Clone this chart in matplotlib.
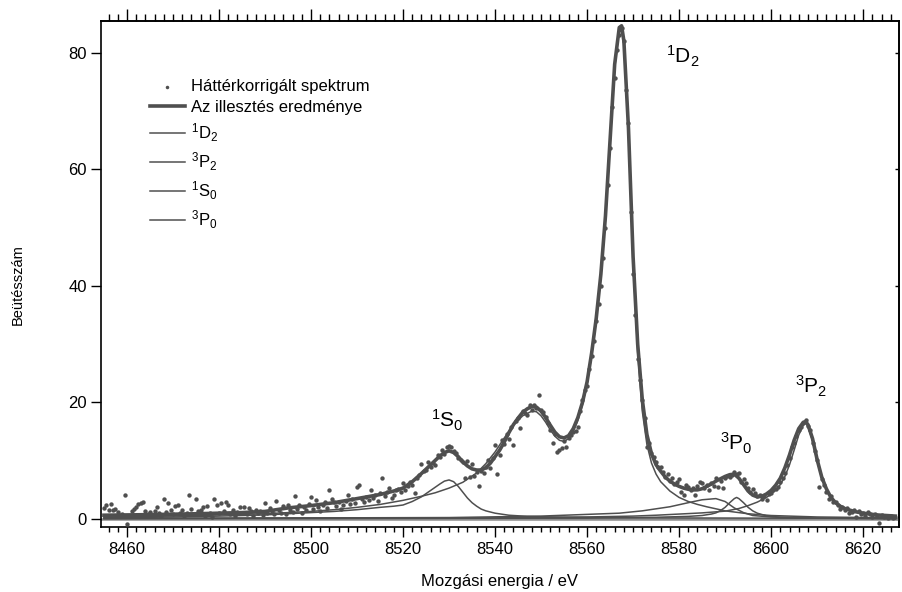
import numpy as np
import matplotlib
matplotlib.use("Agg")
import matplotlib.pyplot as plt
from matplotlib.ticker import MultipleLocator

plt.rcParams['font.family'] = ['Liberation Sans', 'DejaVu Sans']
plt.rcParams['mathtext.fontset'] = 'custom'
plt.rcParams['mathtext.rm'] = 'Liberation Sans'
plt.rcParams['mathtext.it'] = 'Liberation Sans:italic'

# mért pontok: 8455 .. 8627 eV, 0.5 eV lépés
meas_e = np.arange(8455.0, 8627.01, 0.5)
meas_v = [
    1.9, 2.4, 1.6, 2.6, 1.6, 1.7, 1.2, 0.6, 0.9, 4.1, -0.9, 0.5, 1.3, 1.7, 2.1, 2.6, 2.8, 2.9, 1.4, 0.8,
    1.2, 0.7, 1.4, 2.0, 1.0, 0.6, 3.4, 1.2, 2.8, 1.6, 0.9, 2.2, 2.4, 1.0, 1.6, 0.5, 1.1, 4.1, 1.7, 0.8,
    3.4, 1.3, 1.6, 2.0, 0.6, 2.2, 1.1, 0.4, 3.4, 2.4, 1.0, 2.8, 1.3, 3.0, 2.4, 0.9, 1.6, 0.5, 1.2, 2.0,
    1.0, 2.1, 0.8, 1.9, 1.4, 0.6, 1.6, 1.1, 1.3, 0.7, 2.8, 1.0, 1.9, 1.4, 0.8, 3.1, 1.5, 1.1, 2.2, 0.9,
    2.4, 1.6, 1.2, 3.9, 1.8, 2.4, 1.0, 2.0, 1.5, 2.6, 3.7, 1.8, 3.3, 2.1, 1.4, 2.4, 2.9, 1.9, 4.9, 3.4,
    3.0, 2.2, 3.0, 1.8, 2.4, 3.1, 4.1, 2.6, 3.5, 2.8, 5.5, 5.8, 3.4, 2.9, 3.8, 3.3, 4.9, 3.6, 4.2, 3.1,
    4.4, 7.1, 4.0, 4.7, 5.3, 3.6, 4.1, 4.9, 5.2, 4.6, 6.2, 5.0, 5.6, 6.3, 5.8, 4.4, 7.0, 7.6, 9.4, 8.2,
    8.4, 9.8, 9.0, 9.6, 9.2, 11.0, 10.6, 11.8, 11.2, 12.3, 12.5, 12.4, 11.6, 11.3, 10.4, 10.1, 9.8, 7.0, 10.0, 7.2,
    9.5, 7.4, 8.0, 5.7, 8.2, 7.9, 8.9, 10.1, 8.7, 10.4, 12.7, 7.8, 11.0, 13.5, 12.9, 14.6, 13.8, 15.7, 12.7, 16.8,
    17.3, 15.6, 18.6, 18.1, 17.8, 19.5, 18.7, 19.6, 19.0, 21.3, 18.7, 18.3, 17.5, 16.4, 15.2, 13.0, 14.6, 11.5, 11.9, 12.2,
    13.3, 12.4, 13.9, 14.4, 14.9, 15.1, 15.8, 18.6, 20.4, 22.1, 22.8, 25.8, 27.9, 30.6, 34.0, 36.8, 39.9, 44.7, 49.9, 57.3,
    63.6, 70.7, 75.6, 80.4, 83.0, 84.2, 82.0, 73.6, 67.9, 52.7, 42.0, 35.0, 27.5, 23.8, 20.4, 17.3, 12.4, 13.1, 11.4, 10.7,
    9.8, 8.9, 9.0, 8.1, 7.2, 7.7, 6.5, 7.1, 6.0, 6.4, 6.9, 4.6, 4.1, 5.8, 5.5, 5.0, 5.3, 4.2, 5.6, 6.4,
    6.2, 5.3, 5.8, 4.9, 6.1, 5.7, 7.0, 5.5, 6.6, 5.3, 7.0, 7.4, 7.2, 7.6, 8.1, 7.7, 7.9, 6.4, 6.8, 6.1,
    5.4, 4.7, 5.1, 4.4, 3.9, 4.1, 3.5, 3.9, 3.2, 4.3, 4.4, 4.9, 5.2, 5.5, 6.4, 7.1, 7.9, 9.3, 10.4, 12.4,
    13.0, 14.3, 15.2, 15.8, 16.4, 17.0, 16.0, 15.3, 13.0, 11.6, 10.1, 5.5, 6.8, 5.9, 4.6, 3.5, 3.9, 2.9, 3.0, 2.4,
    1.7, 2.1, 1.6, 1.9, 1.1, 1.2, 1.5, 0.3, 1.3, 0.8, 1.0, 0.6, 1.2, 0.9, 0.4, 0.8, 0.5, -0.6, 0.7, 0.3,
    0.6, 0.2, 0.5, 0.1, 0.4,
]

# illesztett görbe
fit_e = [8455, 8465, 8475, 8485, 8490, 8495, 8500, 8505, 8510, 8515, 8518, 8520, 8522, 8524, 8526,
         8528, 8529, 8530, 8531, 8532, 8533, 8534, 8535, 8536, 8537, 8538, 8539, 8540, 8541, 8542,
         8543, 8544, 8545, 8546, 8547, 8548, 8549, 8550, 8551, 8552, 8553, 8554, 8555, 8556, 8557,
         8558, 8559, 8560, 8561, 8562, 8563, 8564, 8565, 8566, 8567, 8567.5, 8568, 8569, 8570, 8571,
         8572, 8573, 8574, 8575, 8576, 8577, 8578, 8579, 8580, 8581, 8582, 8583, 8584, 8585, 8586,
         8587, 8588, 8589, 8590, 8591, 8592, 8593, 8594, 8595, 8596, 8597, 8598, 8599, 8600, 8601,
         8602, 8603, 8604, 8605, 8606, 8607, 8607.5, 8608, 8609, 8610, 8611, 8612, 8613, 8614, 8615,
         8616, 8618, 8620, 8623, 8627]
fit_v = [0.65, 0.75, 0.9, 1.1, 1.3, 1.9, 2.3, 2.8, 3.5, 4.2, 4.8, 5.3, 6.4, 7.8, 9.3,
         10.8, 11.4, 11.7, 11.4, 10.7, 9.8, 9.1, 8.6, 8.4, 8.4, 8.8, 9.6, 10.7, 11.8, 13.2,
         14.8, 16.2, 17.3, 18.3, 18.9, 19.3, 19.2, 18.5, 17.4, 16.1, 14.9, 14.1, 13.9, 14.3, 15.5,
         17.4, 20.0, 23.5, 28.5, 34.5, 42.0, 52.0, 65.0, 78.0, 84.3, 84.6, 82.0, 67.0, 45.0, 30.0,
         20.5, 14.5, 11.2, 9.3, 8.2, 7.2, 6.5, 6.0, 5.6, 5.3, 5.1, 5.0, 5.0, 5.2, 5.6,
         6.0, 6.5, 6.9, 7.3, 7.6, 7.7, 7.0, 5.9, 4.8, 4.1, 3.8, 3.9, 4.3, 4.9, 5.8,
         7.0, 8.8, 11.0, 13.5, 15.5, 16.6, 16.7, 16.2, 13.8, 10.2, 7.2, 5.2, 3.7, 2.8, 2.2,
         1.8, 1.3, 1.0, 0.7, 0.5]

# komponensek
d2_e = [8455, 8465, 8475, 8485, 8490, 8495, 8500, 8505, 8510, 8515, 8520, 8524, 8527, 8530, 8533,
        8536, 8538, 8540, 8542, 8544, 8546, 8548, 8549, 8550, 8551, 8552, 8553, 8554, 8555, 8556,
        8557, 8558, 8559, 8560, 8561, 8562, 8563, 8564, 8565, 8566, 8567, 8567.5, 8568, 8569, 8570,
        8571, 8572, 8573, 8574, 8575, 8576, 8578, 8580, 8582, 8584, 8586, 8590, 8595, 8600, 8610, 8627]
d2_v = [0.35, 0.45, 0.6, 0.8, 0.9, 1.1, 1.3, 1.6, 2.0, 2.5, 3.2, 3.9, 4.5, 5.3, 6.3,
        7.9, 9.5, 11.5, 13.9, 16.1, 17.7, 18.5, 18.4, 17.7, 16.6, 15.3, 14.2, 13.5, 13.3, 13.8,
        15.0, 16.9, 19.6, 23.2, 28.1, 34.1, 41.7, 51.4, 64.4, 77.4, 84.0, 84.3, 81.5, 66.5, 44.5,
        28.5, 18.5, 12.8, 9.6, 7.7, 6.4, 4.8, 3.7, 3.0, 2.5, 2.1, 1.4, 0.9, 0.6, 0.35, 0.2]

p2_e = [8455, 8540, 8560, 8570, 8575, 8580, 8585, 8590, 8593, 8595, 8597, 8599, 8600, 8601, 8602,
        8603, 8604, 8605, 8606, 8607, 8607.5, 8608, 8609, 8610, 8611, 8612, 8613, 8614, 8615, 8617,
        8620, 8623, 8627]
p2_v = [0.1, 0.2, 0.35, 0.5, 0.65, 0.85, 1.05, 1.35, 1.8, 2.3, 2.9, 3.7, 4.3, 5.0, 5.9,
        7.3, 9.3, 11.8, 14.4, 16.1, 16.4, 16.0, 13.4, 10.0, 7.0, 5.0, 3.7, 2.8, 2.2, 1.5,
        1.0, 0.7, 0.5]

s0_e = [8455, 8470, 8480, 8490, 8500, 8505, 8510, 8515, 8518, 8520, 8522, 8524, 8526, 8528, 8529,
        8530, 8531, 8532, 8533, 8534, 8535, 8536, 8537, 8538, 8540, 8543, 8547, 8555, 8570, 8627]
s0_v = [0.2, 0.35, 0.5, 0.7, 1.1, 1.3, 1.6, 2.0, 2.2, 2.4, 3.0, 3.8, 4.9, 6.0, 6.5,
        6.7, 6.4, 5.6, 4.6, 3.6, 2.8, 2.2, 1.7, 1.4, 1.0, 0.65, 0.45, 0.3, 0.2, 0.1]

p0_e = [8455, 8560, 8575, 8582, 8585, 8587, 8588, 8589, 8590, 8591, 8592, 8592.5, 8593, 8594, 8595,
        8596, 8597, 8599, 8602, 8610, 8627]
p0_v = [0.05, 0.15, 0.3, 0.45, 0.6, 0.85, 1.05, 1.45, 2.0, 2.8, 3.5, 3.7, 3.5, 2.8, 2.0,
        1.4, 1.0, 0.55, 0.3, 0.15, 0.05]

# széles mellékcsúcs 8588 eV körül
sat_e = [8455, 8530, 8550, 8567, 8572, 8578, 8582, 8585, 8588, 8590, 8592, 8594, 8596, 8600, 8610, 8627]
sat_v = [0.1, 0.25, 0.5, 1.0, 1.4, 2.1, 2.8, 3.3, 3.5, 3.0, 1.9, 1.1, 0.6, 0.35, 0.15, 0.1]

col = '#4f4f4f'

fig = plt.figure(figsize=(9.03, 5.92), dpi=100)
ax = fig.add_axes([0.1118, 0.1098, 0.8838, 0.8552])

ax.axhline(0, color='#8c8c8c', lw=1.8, zorder=1)
ax.plot(sat_e, sat_v, color=col, lw=1.1, zorder=2)
ax.plot(d2_e, d2_v, color=col, lw=1.1, zorder=2, label=r'$\mathregular{^1D_2}$')
ax.plot(p2_e, p2_v, color=col, lw=1.1, zorder=2, label=r'$\mathregular{^3P_2}$')
ax.plot(s0_e, s0_v, color=col, lw=1.1, zorder=2, label=r'$\mathregular{^1S_0}$')
ax.plot(p0_e, p0_v, color=col, lw=1.1, zorder=2, label=r'$\mathregular{^3P_0}$')
ax.plot(fit_e, fit_v, color=col, lw=2.6, zorder=3, label='Az illesztés eredménye')
ax.scatter(meas_e, meas_v, s=10, color=col, zorder=4, linewidths=0, label='Háttérkorrigált spektrum')

ax.set_xlim(8454.35, 8627.8)
ax.set_ylim(-1.37, 85.47)

ax.xaxis.set_major_locator(MultipleLocator(20))
ax.xaxis.set_minor_locator(MultipleLocator(2))
ax.yaxis.set_major_locator(MultipleLocator(20))
ax.tick_params(axis='x', which='major', direction='out', length=7, width=1, labelsize=12, pad=4)
ax.tick_params(axis='x', which='minor', direction='out', length=3.8, width=1)
ax.tick_params(axis='y', which='major', direction='out', length=7, width=1, labelsize=12, pad=3)

top = ax.secondary_xaxis('top')
top.xaxis.set_major_locator(MultipleLocator(20))
top.xaxis.set_minor_locator(MultipleLocator(2))
top.tick_params(axis='x', which='major', direction='out', length=9, width=1, labeltop=False)
top.tick_params(axis='x', which='minor', direction='out', length=5, width=1)

right = ax.secondary_yaxis('right')
right.yaxis.set_major_locator(MultipleLocator(20))
right.tick_params(axis='y', direction='in', length=3, width=1, labelright=False)

for sp in list(ax.spines.values()) + [top.spines['top'], right.spines['right']]:
    sp.set_linewidth(1.2)

ax.set_xlabel('Mozgási energia / eV', fontsize=12)
ax.xaxis.set_label_coords(0.5, -0.1086)
ax.xaxis.label.set_va('center')
ax.set_ylabel('Beütésszám', fontsize=10.5)
ax.yaxis.set_label_coords(-0.104, 0.478)
ax.yaxis.label.set_va('center')

ax.text(8580.9, 79.3, r'$\mathregular{^1D_2}$', fontsize=15, ha='center', va='center')
ax.text(8529.6, 17.0, r'$\mathregular{^1S_0}$', fontsize=15, ha='center', va='center')
ax.text(8592.5, 13.0, r'$\mathregular{^3P_0}$', fontsize=15, ha='center', va='center')
ax.text(8608.6, 22.8, r'$\mathregular{^3P_2}$', fontsize=15, ha='center', va='center')

h, l = ax.get_legend_handles_labels()
order = [5, 4, 0, 1, 2, 3]
ax.legend([h[i] for i in order], [l[i] for i in order], loc='upper left',
          bbox_to_anchor=(0.0614, 0.885), frameon=False, fontsize=12,
          handlelength=2.1, handletextpad=0.35, labelspacing=0.38,
          borderpad=0, borderaxespad=0, markerscale=0.8, scatterpoints=1)

fig.savefig('out.png', dpi=100)
